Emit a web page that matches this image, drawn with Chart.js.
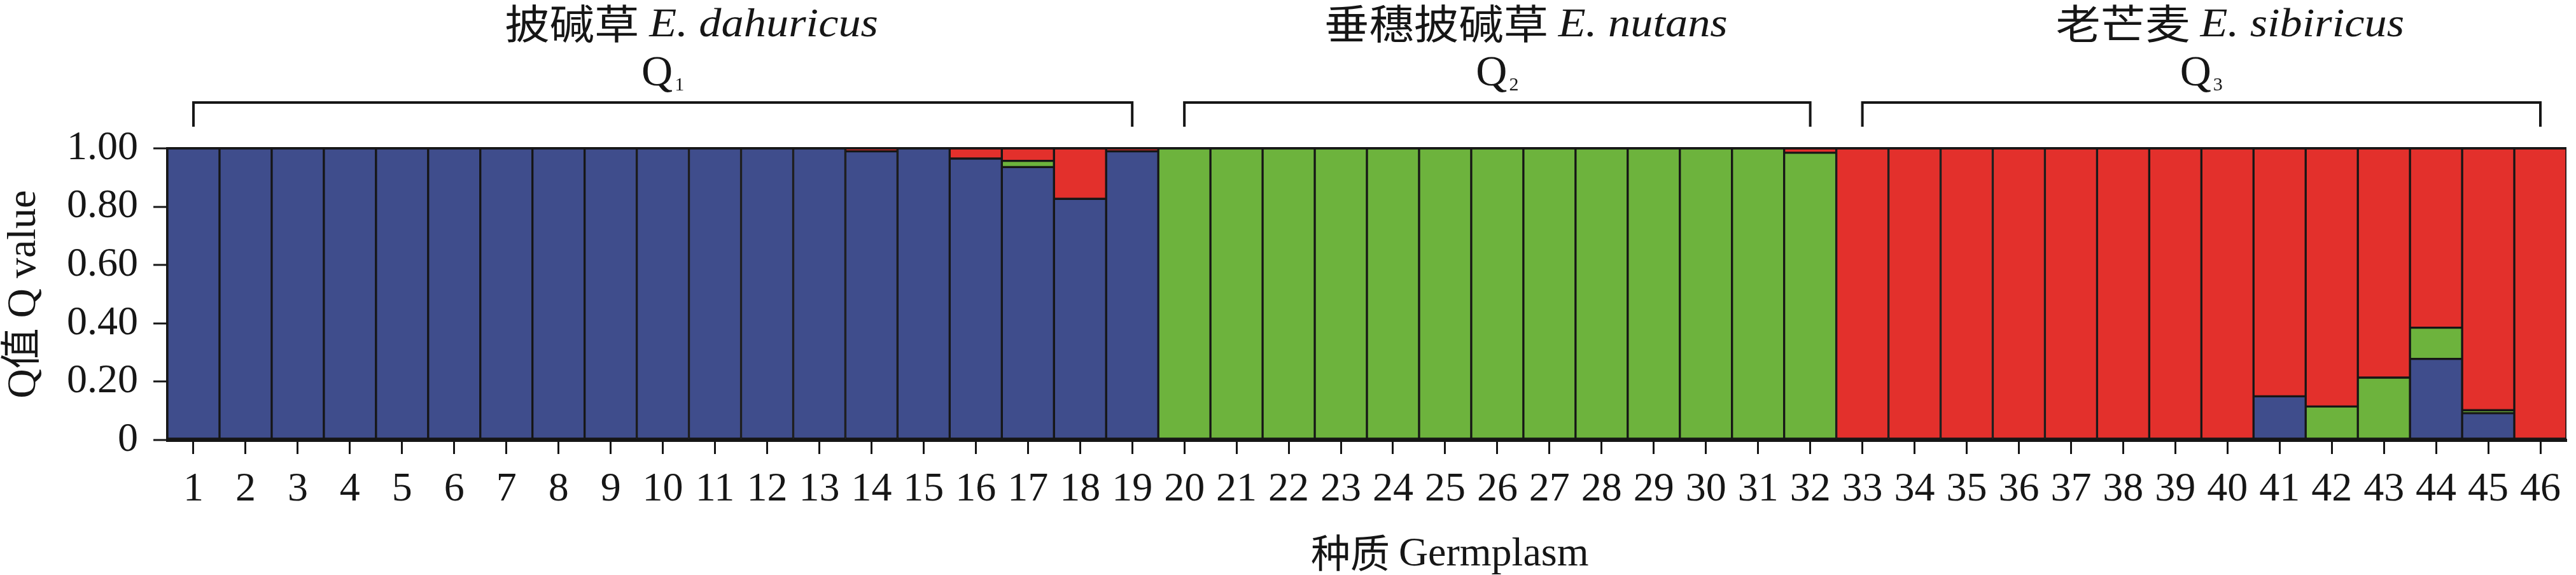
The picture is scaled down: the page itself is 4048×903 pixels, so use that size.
<!DOCTYPE html>
<html>
<head>
<meta charset="utf-8">
<script src="https://cdn.jsdelivr.net/npm/chart.js@4"></script>
<style>
  html, body { margin: 0; padding: 0; background: #fff; }
</style>
</head>
<body>
<canvas id="chart" width="4048" height="903"></canvas>
<script>
// Germplasm numbers (x categories)
const germplasm = ['1','2','3','4','5','6','7','8','9','10','11','12','13','14','15','16','17','18','19','20',
  '21','22','23','24','25','26','27','28','29','30','31','32','33','34','35','36','37','38','39','40',
  '41','42','43','44','45','46'];

// Q values of the three clusters for each germplasm
const q1Blue = [1,1,1,1,1,1,1,1,1,1,1,1,1,0.99,1,0.965,0.936,0.827,0.99,
  0,0,0,0,0,0,0,0,0,0,0,0,0,
  0,0,0,0,0,0,0,0,0.15,0,0,0.278,0.092,0];
const q2Green = [0,0,0,0,0,0,0,0,0,0,0,0,0,0,0,0,0.021,0,0,
  1,1,1,1,1,1,1,1,1,1,1,1,0.985,
  0,0,0,0,0,0,0,0,0,0.115,0.214,0.107,0.01,0];
const q3Red = [0,0,0,0,0,0,0,0,0,0,0,0,0,0.01,0,0.035,0.043,0.173,0.01,
  0,0,0,0,0,0,0,0,0,0,0,0,0.015,
  1,1,1,1,1,1,1,1,0.85,0.885,0.786,0.615,0.898,1];

// Groups shown with brackets above the plot (first and last germplasm index)
const groupNames = ['披碱草', '垂穗披碱草', '老芒麦'];
const groupLatin = ['E. dahuricus', 'E. nutans', 'E. sibiricus'];
const groupQ = ['1', '2', '3'];
const groupStart = [0, 19, 32];
const groupEnd = [18, 31, 45];

const yTicks = [0, 0.2, 0.4, 0.6, 0.8, 1.0];
const yTitle = 'Q值 Q value';
const xTitleCn = '种质 ';
const xTitleEn = 'Germplasm';

const INK = '#161616';
const SERIF = "'Liberation Serif', 'Times New Roman', serif";
const CJK = "'Noto Sans CJK SC', sans-serif";

// draws brackets, group names and the x axis title
const groupPlugin = {
  id: 'groups',
  afterDraw(chart) {
    const ctx = chart.ctx;
    const xs = chart.scales.x;
    const area = chart.chartArea;
    ctx.save();
    ctx.fillStyle = INK;
    ctx.strokeStyle = INK;
    ctx.lineWidth = 4;
    ctx.textBaseline = 'alphabetic';
    for (let i = 0; i < groupNames.length; i++) {
      const a = xs.getPixelForValue(groupStart[i]);
      const b = xs.getPixelForValue(groupEnd[i]);
      const mid = (a + b) / 2;
      // bracket
      ctx.beginPath();
      ctx.moveTo(a, 199);
      ctx.lineTo(a, 161);
      ctx.lineTo(b, 161);
      ctx.lineTo(b, 199);
      ctx.stroke();
      // Q label with subscript
      ctx.font = '68px ' + SERIF;
      const qw = ctx.measureText('Q').width;
      ctx.font = '30px ' + SERIF;
      const sw = ctx.measureText(groupQ[i]).width;
      let x = mid - (qw + sw + 3) / 2;
      ctx.font = '68px ' + SERIF;
      ctx.fillText('Q', x, 134);
      ctx.font = '30px ' + SERIF;
      ctx.fillText(groupQ[i], x + qw + 3, 142);
      // group title (Chinese + italic latin), slightly widened like the source
      const sx = 1.1;
      ctx.font = '64px ' + CJK;
      const cw = ctx.measureText(groupNames[i] + ' ').width;
      ctx.font = 'italic 64px ' + SERIF;
      const lw = ctx.measureText(groupLatin[i]).width;
      const tw = (cw + lw) * sx;
      ctx.save();
      ctx.translate(mid + 45 - tw / 2, 57);
      ctx.scale(sx, 1);
      ctx.font = '64px ' + CJK;
      ctx.fillText(groupNames[i] + ' ', 0, 4);
      ctx.font = 'italic 64px ' + SERIF;
      ctx.fillText(groupLatin[i], cw, 0);
      ctx.restore();
    }
    // x axis title
    const start = (area.left + area.right) / 2 - 88;
    ctx.font = '62px ' + CJK;
    const c2 = ctx.measureText(xTitleCn).width;
    ctx.fillText(xTitleCn, start, 892);
    ctx.font = '64px ' + SERIF;
    ctx.fillText(xTitleEn, start + c2, 888);
    ctx.restore();
  }
};

const ctx = document.getElementById('chart').getContext('2d');
new Chart(ctx, {
  type: 'bar',
  data: {
    labels: germplasm,
    datasets: [
      { label: 'Q1', data: q1Blue, backgroundColor: '#3F4D8C' },
      { label: 'Q2', data: q2Green, backgroundColor: '#6DB33D' },
      { label: 'Q3', data: q3Red, backgroundColor: '#E3302C' }
    ].map(d => Object.assign(d, {
      borderColor: INK,
      borderWidth: 2,
      borderSkipped: false,
      categoryPercentage: 1,
      barPercentage: 1
    }))
  },
  options: {
    responsive: false,
    devicePixelRatio: 1,
    animation: false,
    layout: { padding: { top: 233, right: 15, left: 0, bottom: 0 } },
    plugins: {
      legend: { display: false },
      tooltip: { enabled: false }
    },
    scales: {
      x: {
        stacked: true,
        afterFit: s => { s.height = 212; },
        border: { display: true, color: INK, width: 5 },
        grid: { drawOnChartArea: false, offset: false, tickLength: 22, tickWidth: 3, tickColor: INK, color: INK },
        ticks: { autoSkip: false, maxRotation: 0, padding: 18, color: INK, font: { family: SERIF, size: 64 } }
      },
      y: {
        stacked: true,
        min: 0,
        max: 1,
        z: 1,
        afterFit: s => { s.width = 263; },
        afterBuildTicks: s => { s.ticks = yTicks.map(v => ({ value: v })); },
        border: { display: true, color: INK, width: 5 },
        grid: {
          color: c => (c.tick && c.tick.value === 1 ? INK : 'rgba(0,0,0,0)'),
          lineWidth: 4,
          tickColor: INK,
          tickWidth: 3,
          tickLength: 22
        },
        ticks: {
          padding: 24,
          color: INK,
          font: { family: SERIF, size: 64 },
          callback: v => (v === 0 ? '0' : v.toFixed(2))
        },
        title: {
          display: true,
          text: yTitle,
          color: INK,
          padding: { top: 0, bottom: 0 },
          font: { family: "'Liberation Serif', 'Noto Sans CJK SC', serif", size: 64 }
        }
      }
    }
  },
  plugins: [groupPlugin]
});
</script>
</body>
</html>
